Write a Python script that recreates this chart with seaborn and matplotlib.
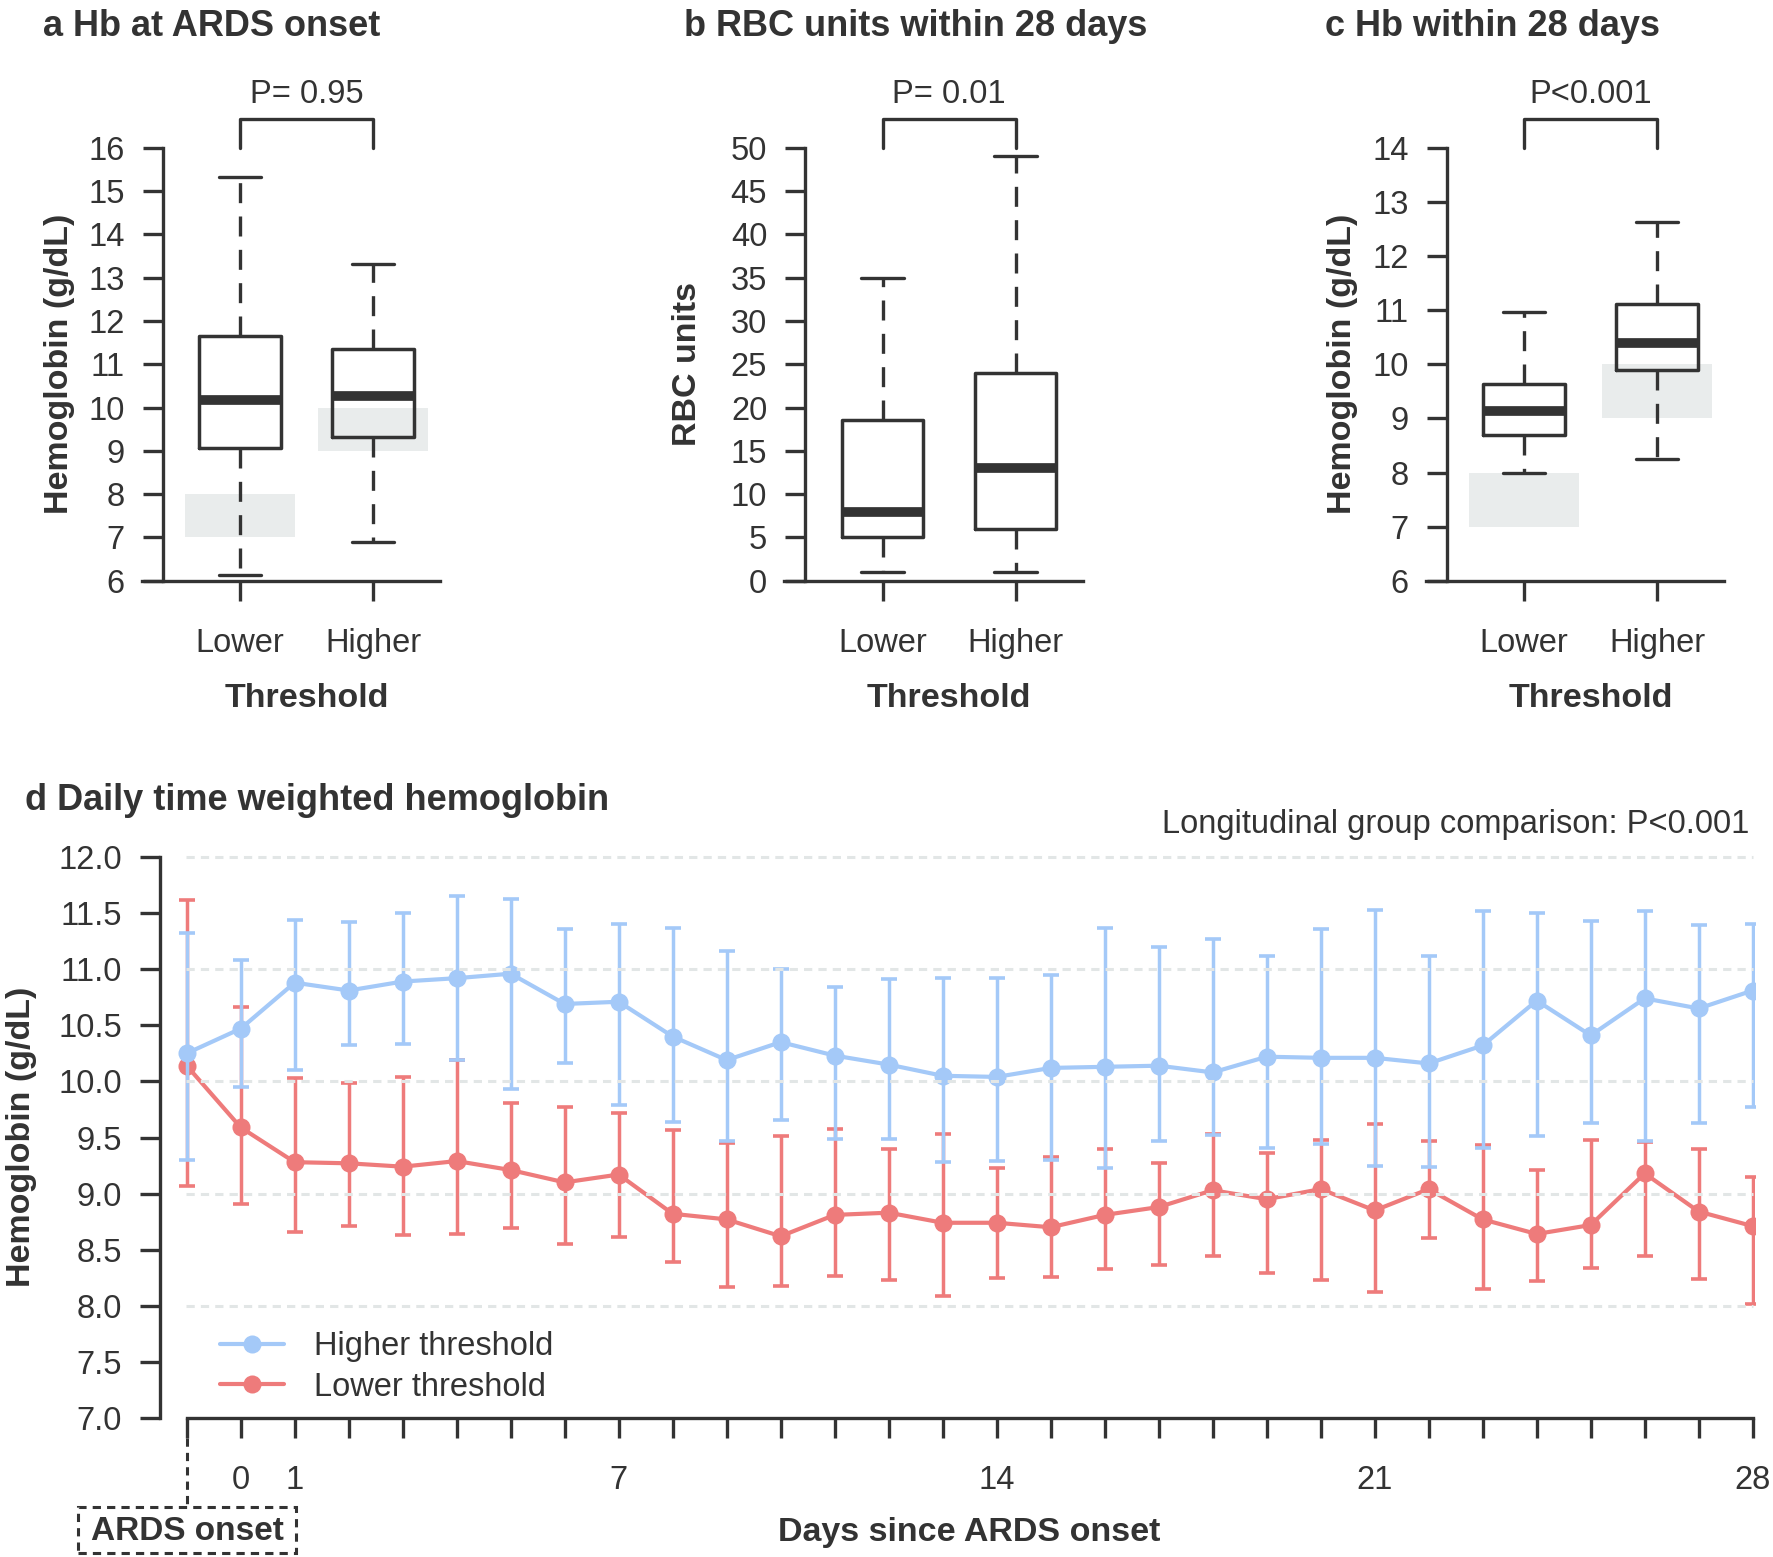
import numpy as np
import pandas as pd
import matplotlib
matplotlib.use("Agg")
import matplotlib.pyplot as plt
import matplotlib.transforms as mtransforms
from matplotlib.patches import Rectangle
import seaborn as sns

# ---- data ----
groups = ["Lower", "Higher"]

# box summaries: (whisker low, Q1, median, Q3, whisker high)
hb_onset_lower = [6.13, 9.07, 10.17, 11.66, 15.32]
hb_onset_higher = [6.90, 9.32, 10.27, 11.36, 13.32]
rbc_lower = [1.0, 5.0, 8.0, 18.6, 35.0]
rbc_higher = [1.0, 6.0, 13.0, 24.0, 49.0]
hb_28_lower = [7.99, 8.70, 9.14, 9.64, 10.96]
hb_28_higher = [8.25, 9.90, 10.39, 11.11, 12.63]

target_lower = [7, 8]
target_higher = [9, 10]

p_values = ["P= 0.95", "P= 0.01", "P<0.001"]

days = list(range(-1, 29))
higher_mean = [10.25, 10.47, 10.88, 10.81, 10.89, 10.92, 10.96, 10.69, 10.71, 10.40,
               10.19, 10.35, 10.23, 10.15, 10.05, 10.04, 10.12, 10.13, 10.14, 10.08,
               10.22, 10.21, 10.21, 10.16, 10.32, 10.72, 10.41, 10.74, 10.65, 10.81]
higher_hi = [11.32, 11.08, 11.44, 11.42, 11.50, 11.65, 11.63, 11.36, 11.40, 11.37,
             11.16, 11.00, 10.84, 10.91, 10.92, 10.92, 10.95, 11.37, 11.20, 11.27,
             11.12, 11.36, 11.53, 11.12, 11.52, 11.50, 11.43, 11.52, 11.39, 11.40]
higher_lo = [9.30, 9.95, 10.10, 10.32, 10.33, 10.19, 9.93, 10.16, 9.79, 9.64,
             9.47, 9.66, 9.49, 9.49, 9.28, 9.29, 9.30, 9.23, 9.47, 9.52,
             9.41, 9.44, 9.25, 9.24, 9.41, 9.51, 9.63, 9.47, 9.63, 9.77]
lower_mean = [10.14, 9.59, 9.28, 9.27, 9.24, 9.29, 9.21, 9.10, 9.17, 8.82,
              8.77, 8.62, 8.81, 8.83, 8.74, 8.74, 8.70, 8.81, 8.88, 9.03,
              8.95, 9.04, 8.85, 9.04, 8.77, 8.64, 8.72, 9.18, 8.84, 8.71]
lower_hi = [11.62, 10.66, 10.03, 9.99, 10.04, 10.19, 9.81, 9.77, 9.72, 9.57,
            9.45, 9.51, 9.58, 9.40, 9.53, 9.23, 9.33, 9.40, 9.27, 9.53,
            9.36, 9.48, 9.62, 9.47, 9.43, 9.21, 9.48, 9.46, 9.40, 9.15]
lower_lo = [9.07, 8.91, 8.66, 8.71, 8.63, 8.64, 8.69, 8.55, 8.61, 8.39,
            8.17, 8.18, 8.27, 8.23, 8.09, 8.25, 8.26, 8.33, 8.36, 8.44,
            8.29, 8.23, 8.12, 8.60, 8.15, 8.22, 8.34, 8.44, 8.24, 8.02]

labelled_days = [0, 1, 7, 14, 21, 28]

# ---- style ----
INK = "#333333"
BLUE = "#A4C9F8"
RED = "#EE7B7B"
SHADE = "#E9ECEC"
GRID = "#E2E6E6"

sns.set_theme(style="ticks", rc={
    "axes.edgecolor": INK, "axes.linewidth": 2.4,
    "xtick.color": INK, "ytick.color": INK,
    "text.color": INK, "axes.labelcolor": INK,
    "xtick.major.size": 14.5, "ytick.major.size": 14.5,
    "xtick.major.width": 2.4, "ytick.major.width": 2.4,
})
plt.rcParams["font.family"] = ["Liberation Sans", "DejaVu Sans"]

W, H = 1773, 1557
fig = plt.figure(figsize=(W / 100, H / 100), dpi=100)


def fx(px):
    return px / W


def fy(py):
    return 1 - py / H


TICK_FS = 23.5
LAB_FS = 24.5
TITLE_FS = 26


def box_panel(left_px, low, high, ylim, ystep, ylabel, ylabel_x, pval, shade):
    ax = fig.add_axes([fx(left_px), fy(580.8), 298.6 / W, 433 / H])
    stats = []
    for name, s in zip(groups, [low, high]):
        stats.append(dict(label=name, whislo=s[0], q1=s[1], med=s[2], q3=s[3],
                          whishi=s[4], fliers=[]))
    if shade:
        for pos, (a, b) in zip([0, 1], [target_lower, target_higher]):
            ax.add_patch(Rectangle((pos - 0.41, a), 0.82, b - a, color=SHADE,
                                   lw=0, zorder=1))
    ax.bxp(stats, positions=[0, 1], widths=0.61, showfliers=False,
           capwidths=0.32, patch_artist=False,
           boxprops=dict(color=INK, lw=2.5),
           medianprops=dict(color=INK, lw=7, solid_capstyle="butt"),
           whiskerprops=dict(color=INK, lw=2.4, linestyle=(0, (6, 4))),
           capprops=dict(color=INK, lw=2.4), zorder=3)
    ax.set_xlim(-0.74, 1.505)
    ax.set_ylim(*ylim)
    ax.spines["left"].set_position(("data", -0.58))
    ax.spines[["top", "right"]].set_visible(False)
    ticks = np.arange(ylim[0], ylim[1] + 0.01, ystep)
    ax.set_yticks(ticks)
    ax.set_yticklabels([f"{v:g}" for v in ticks])
    ax.set_xticks([0, 1])
    ax.set_xticklabels(groups)
    ax.tick_params(axis="y", labelsize=TICK_FS, pad=13)
    ax.tick_params(axis="x", labelsize=TICK_FS, pad=19.5)
    ax.grid(False)
    blend = mtransforms.blended_transform_factory(ax.transData, ax.transAxes)
    ax.plot([0, 0, 1, 1], [1.0, 1.067, 1.067, 1.0], color=INK, lw=2.4,
            transform=blend, clip_on=False)
    ax.text(0.5, 1.122, pval, transform=blend, ha="center", va="center",
            fontsize=TICK_FS)
    ax.text(0.5, -0.272, "Threshold", transform=blend, ha="center",
            va="center", fontsize=LAB_FS, fontweight="bold")
    fig.text(fx(ylabel_x), fy(364), ylabel, rotation=90, ha="center",
             va="center", fontsize=LAB_FS, fontweight="bold")
    return ax


box_panel(141.6, hb_onset_lower, hb_onset_higher, (6, 16), 1,
          "Hemoglobin (g/dL)", 60, p_values[0], True)
box_panel(784.1, rbc_lower, rbc_higher, (0, 50), 5,
          "RBC units", 687, p_values[1], False)
box_panel(1425.6, hb_28_lower, hb_28_higher, (6, 14), 1,
          "Hemoglobin (g/dL)", 1343, p_values[2], True)

for x0, title in [(43, "a Hb at ARDS onset"), (684, "b RBC units within 28 days"),
                  (1325, "c Hb within 28 days")]:
    fig.text(fx(x0), fy(26), title, ha="left", va="center",
             fontsize=TITLE_FS, fontweight="bold")

# ---- panel d ----
axd = fig.add_axes([fx(160), fy(1418), (1755.4 - 160) / W, (1418 - 857) / H])

df_low = pd.DataFrame({"day": days, "hb": lower_mean})
df_high = pd.DataFrame({"day": days, "hb": higher_mean})

lm, hm = np.array(lower_mean), np.array(higher_mean)
axd.errorbar(days, lm, yerr=[lm - np.array(lower_lo), np.array(lower_hi) - lm],
             fmt="none", ecolor=RED, elinewidth=2.5, capsize=5.5, capthick=2.6,
             zorder=2)
sns.lineplot(data=df_low, x="day", y="hb", color=RED, marker="o",
             markersize=13, markeredgewidth=0, linewidth=3.0,
             label="Lower threshold", ax=axd, zorder=3)
axd.errorbar(days, hm, yerr=[hm - np.array(higher_lo), np.array(higher_hi) - hm],
             fmt="none", ecolor=BLUE, elinewidth=2.5, capsize=5.5, capthick=2.6,
             zorder=4)
sns.lineplot(data=df_high, x="day", y="hb", color=BLUE, marker="o",
             markersize=13, markeredgewidth=0, linewidth=3.0,
             label="Higher threshold", ax=axd, zorder=5)

axd.hlines([8, 9, 10, 11, 12], -1.02, 28, color=GRID, lw=2.2,
           linestyle=(0, (2.7, 2.0)), zorder=10, clip_on=False)

axd.set_xlim(-1.494, 28.05)
axd.set_ylim(7, 12)
axd.spines[["top", "right"]].set_visible(False)
axd.spines["left"].set_bounds(7, 12)
axd.spines["bottom"].set_bounds(-1, 28)
axd.set_xticks(days)
axd.set_xticklabels([str(d) if d in labelled_days else "" for d in days])
yt = np.arange(7, 12.01, 0.5)
axd.set_yticks(yt)
axd.set_yticklabels([f"{v:.1f}" for v in yt])
axd.tick_params(axis="y", labelsize=TICK_FS, pad=13)
axd.tick_params(axis="x", labelsize=TICK_FS, pad=19)
axd.set_xlabel("")
axd.set_ylabel("")
axd.grid(False)

handles, labels = axd.get_legend_handles_labels()
order = [labels.index("Higher threshold"), labels.index("Lower threshold")]
axd.legend([handles[i] for i in order], [labels[i] for i in order],
           loc="center left", bbox_to_anchor=(fx(220), fy(1367)),
           bbox_transform=fig.transFigure, frameon=False, borderpad=0,
           borderaxespad=0, fontsize=TICK_FS, handlelength=1.95,
           handletextpad=0.92, labelspacing=0.3)

blend_d = mtransforms.blended_transform_factory(axd.transData, axd.transAxes)
axd.plot([-1, -1], [-0.036, -0.159], color=INK, lw=2.2,
         linestyle=(0, (2.7, 2.0)), transform=blend_d, clip_on=False)
fig.add_artist(Rectangle((fx(78), fy(1553)), (296 - 78) / W, (1553 - 1507) / H,
                         transform=fig.transFigure, fill=False, ec=INK, lw=2.2,
                         linestyle=(0, (2.7, 2.0))))
fig.text(fx(187), fy(1532), "ARDS onset", ha="center", va="center",
         fontsize=LAB_FS - 0.5, fontweight="bold")
fig.text(fx(969), fy(1533), "Days since ARDS onset", ha="center", va="center",
         fontsize=LAB_FS, fontweight="bold")
fig.text(fx(22), fy(1137), "Hemoglobin (g/dL)", rotation=90, ha="center",
         va="center", fontsize=LAB_FS, fontweight="bold")
fig.text(fx(25), fy(801), "d Daily time weighted hemoglobin", ha="left",
         va="center", fontsize=TITLE_FS, fontweight="bold")
fig.text(fx(1749), fy(824), "Longitudinal group comparison: P<0.001",
         ha="right", va="center", fontsize=TICK_FS)

fig.savefig("out.png", dpi=100)
